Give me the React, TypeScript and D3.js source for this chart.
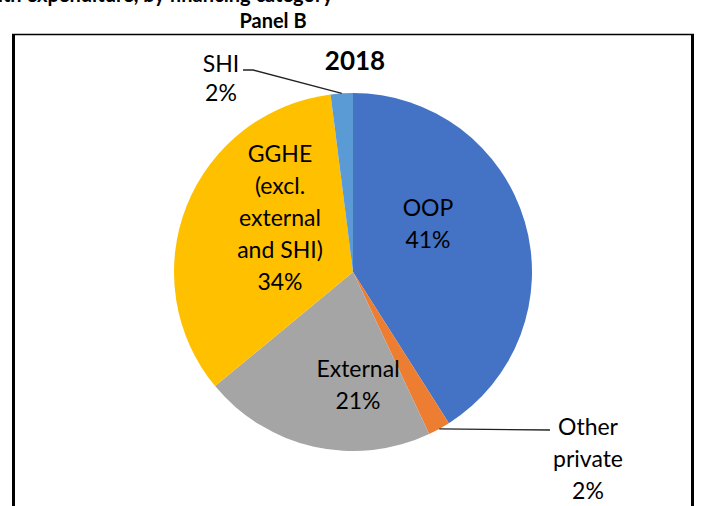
import React from "react";
import * as d3 from "d3";

const categories = ["OOP", "Other private", "External", "GGHE (excl. external and SHI)", "SHI"];
const values = [41, 2, 21, 34, 2];
const labelLines = [
  ["OOP", "41%"],
  ["Other", "private", "2%"],
  ["External", "21%"],
  ["GGHE", "(excl.", "external", "and SHI)", "34%"],
  ["SHI", "2%"],
];
const colors = ["#4472C4", "#ED7D31", "#A5A5A5", "#FFC000", "#5B9BD5"];

const chartTitle = "2018";
const panelTitle = "Panel B";
const figureTitle = "Current health expenditure, by financing category";

// layout
const W = 701;
const H = 506;
const cx = 353;
const cy = 272;
const R = 179;
const FONT = "Lato, Carlito, Calibri, 'Noto Sans', sans-serif";
const labelFont = 23;
const lineGap = 32;
// label anchor (x, first baseline) and leader settings
const labelPos: { x: number; y: number; leader?: [number, number][] }[] = [
  { x: 428, y: 216 },
  { x: 588, y: 435, leader: [[550, 0]] },
  { x: 358, y: 377 },
  { x: 280, y: 162 },
  { x: 221, y: 72, leader: [[243, 0], [253, 0]] },
];

export default function App() {
  const pie = d3.pie<number>().sort(null).value((d) => d);
  const arcs = pie(values);
  const arc = d3.arc<d3.PieArcDatum<number>>().innerRadius(0).outerRadius(R);

  return (
    <svg
      width={W}
      height={H}
      style={{ position: "absolute", left: 0, top: 0, background: "#fff" }}
      fontFamily={FONT}
    >
      <rect x={0} y={0} width={W} height={H} fill="#fff" />
      <text x={333} y={1.5} textAnchor="end" fontWeight="bold" fontSize={20} fill="#000">
        {figureTitle}
      </text>
      <text x={273} y={28} textAnchor="middle" fontWeight="bold" fontSize={20} fill="#000">
        {panelTitle}
      </text>
      {/* frame */}
      <line x1={12} x2={694} y1={34.5} y2={34.5} stroke="#000" strokeWidth={1.5} />
      <line x1={13.5} x2={13.5} y1={34} y2={H} stroke="#000" strokeWidth={3} />
      <line x1={692.5} x2={692.5} y1={34} y2={H} stroke="#000" strokeWidth={3} />

      <g transform={`translate(${cx},${cy})`}>
        {arcs.map((a, i) => (
          <path key={categories[i]} d={arc(a) || ""} fill={colors[i]} />
        ))}
      </g>

      <text x={355} y={70} textAnchor="middle" fontWeight="bold" fontSize={26} fill="#000">
        {chartTitle}
      </text>

      {arcs.map((a, i) => {
        const p = labelPos[i];
        const mid = (a.startAngle + a.endAngle) / 2;
        const ex = cx + R * Math.sin(mid);
        const ey = cy - R * Math.cos(mid);
        let leader: string | null = null;
        if (p.leader) {
          const pts = p.leader.map(([x, dy]) => [x, (i === 4 ? p.y - 2 : p.y - 5) + dy]);
          const all = [...pts, [ex, ey]];
          leader = all.map((q, k) => `${k === 0 ? "M" : "L"}${q[0]},${q[1]}`).join("");
        }
        return (
          <g key={"l" + i}>
            {leader && <path d={leader} fill="none" stroke="#222" strokeWidth={1.3} />}
            <text textAnchor="middle" fontSize={labelFont} fill="#000">
              {labelLines[i].map((t, k) => (
                <tspan key={k} x={p.x} y={p.y + k * (i === 4 ? 29 : i === 1 ? 32 : lineGap)}>
                  {t}
                </tspan>
              ))}
            </text>
          </g>
        );
      })}
    </svg>
  );
}
